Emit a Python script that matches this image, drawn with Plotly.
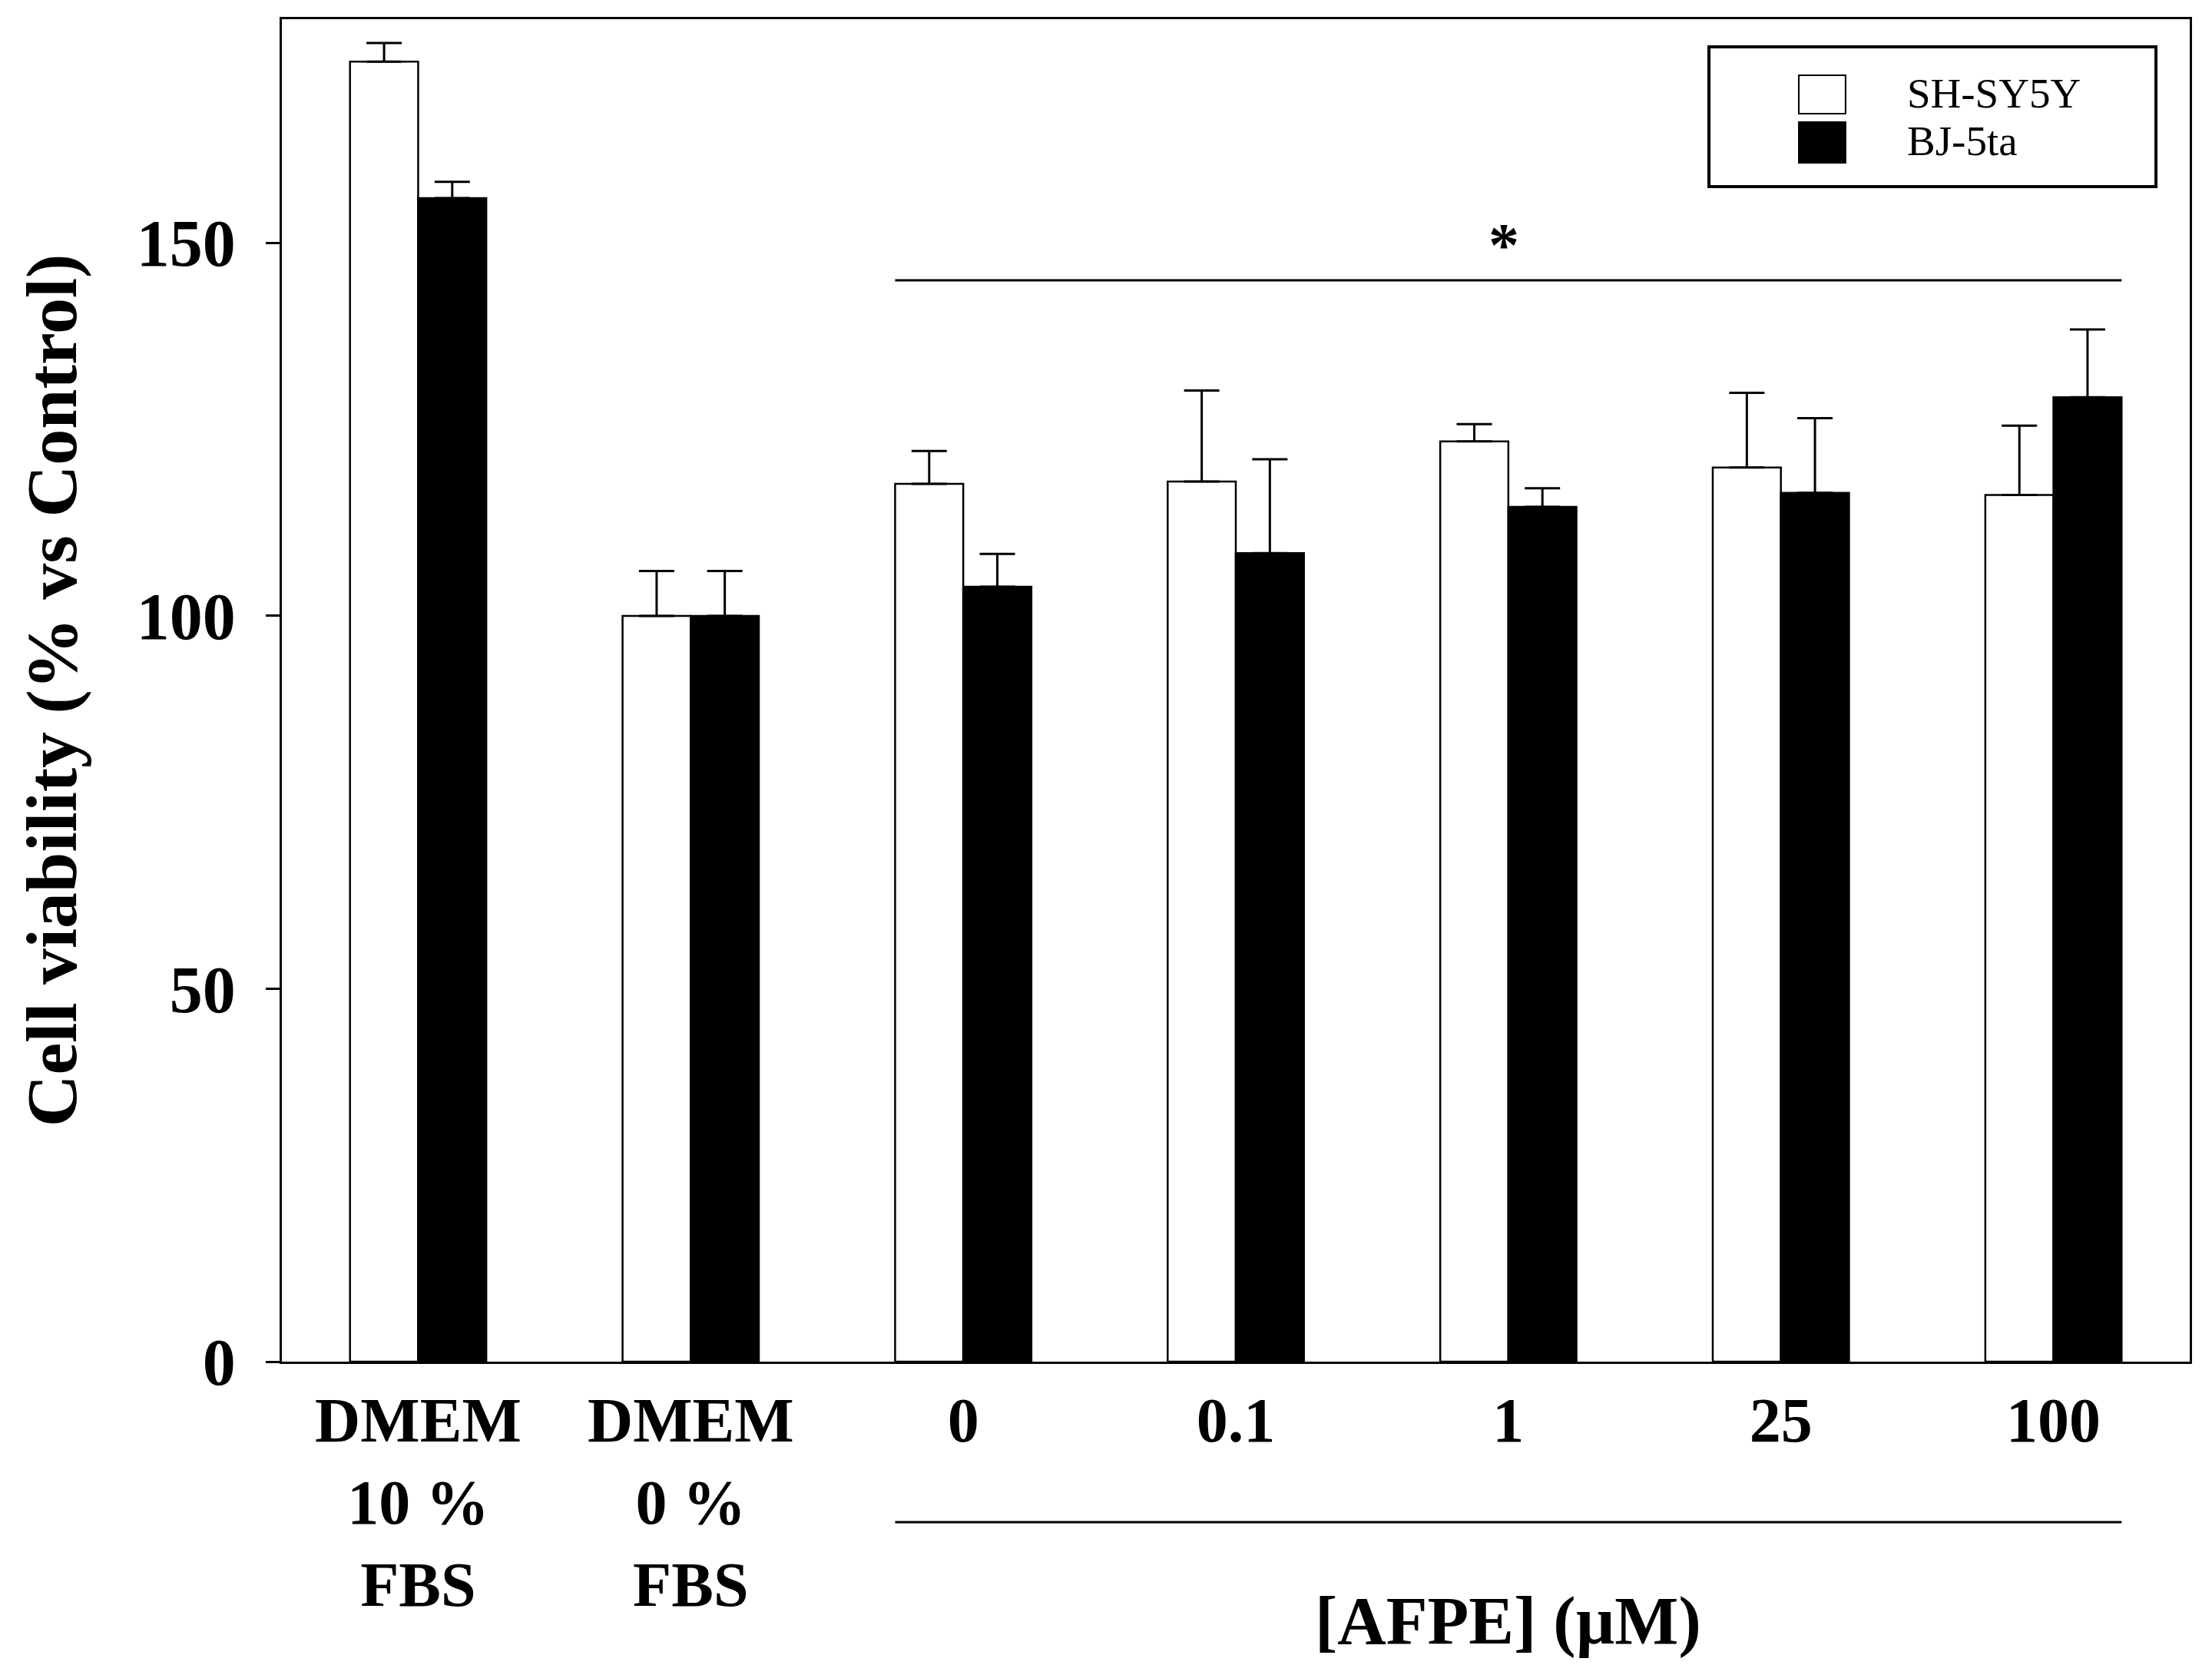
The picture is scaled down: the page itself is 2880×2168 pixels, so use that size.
"""Cell viability bar chart: SH-SY5Y vs BJ-5ta under DMEM controls and AFPE doses."""

import plotly.graph_objects as go

CATEGORIES = ["DMEM<br>10 %<br>FBS", "DMEM<br>0 %<br>FBS", "0", "0.1", "1", "25", "100"]
SHSY5Y_MEAN = [174.3, 100.0, 117.7, 118.0, 123.4, 119.9, 116.2]
SHSY5Y_ERR = [2.5, 6.0, 4.4, 12.2, 2.3, 10.0, 9.3]
BJ5TA_MEAN = [156.0, 100.0, 103.9, 108.4, 114.6, 116.5, 129.3]
BJ5TA_ERR = [2.2, 6.0, 4.4, 12.6, 2.5, 10.0, 9.1]
Y_TICKS = [0, 50, 100, 150]
SIG_LEVEL = 145  # horizontal "*" bracket over the AFPE groups
AFPE_FIRST, AFPE_LAST = 2, 6  # category index range covered by AFPE doses

FONT = "Liberation Serif, Times New Roman, serif"
BAR_HALF = 0.25  # each bar is a quarter of a category slot (bargap 0.5)

x = list(range(len(CATEGORIES)))


def _err(values):
    # upper-only error bars, as in the original figure
    return {
        "type": "data",
        "array": values,
        "arrayminus": [0] * len(values),
        "symmetric": False,
        "color": "black",
        "thickness": 3,
        "width": 23,
    }


fig = go.Figure()
fig.add_bar(x=x, y=SHSY5Y_MEAN, name="SH-SY5Y", error_y=_err(SHSY5Y_ERR), showlegend=False,
            marker={"color": "white", "line": {"color": "black", "width": 2.5}})
fig.add_bar(x=x, y=BJ5TA_MEAN, name="BJ-5ta", error_y=_err(BJ5TA_ERR), showlegend=False,
            marker={"color": "black", "line": {"color": "black", "width": 2.5}})

# Significance line + asterisk over the AFPE groups, and the bracket under the dose labels.
x0 = AFPE_FIRST - BAR_HALF
x1 = AFPE_LAST + BAR_HALF
mid = (AFPE_FIRST + AFPE_LAST) / 2
fig.add_shape(type="line", xref="x", yref="y", x0=x0, x1=x1, y0=SIG_LEVEL, y1=SIG_LEVEL,
              line={"color": "black", "width": 3})
fig.add_annotation(x=mid, y=SIG_LEVEL, xref="x", yref="y", text="*", showarrow=False,
                   yanchor="bottom", yshift=0, xshift=-6,
                   font={"family": FONT, "size": 80, "color": "black", "weight": "bold"})
fig.add_shape(type="line", xref="x", yref="paper", x0=x0, x1=x1, y0=-0.1196, y1=-0.1196,
              line={"color": "black", "width": 3})
fig.add_annotation(x=mid, y=-0.1928, xref="x", yref="paper", text="[AFPE] (\u00b5M)",
                   showarrow=False, yanchor="middle",
                   font={"family": FONT, "size": 88, "color": "black", "weight": "bold"})

# Hand-drawn legend box (plotly's own legend swatches are too small at this scale).
fig.add_shape(type="rect", xref="paper", yref="paper", x0=0.748, x1=0.9823, y0=0.8753, y1=0.9794,
              line={"color": "black", "width": 4}, fillcolor="white")
legend_rows = [("SH-SY5Y", "white", 0.9450, 0.9296, 0.9582),
               ("BJ-5ta", "black", 0.9095, 0.8930, 0.9233)]
for label, fill, yc, ylo, yhi in legend_rows:
    fig.add_shape(type="rect", xref="paper", yref="paper", x0=0.7951, x1=0.8196, y0=ylo, y1=yhi,
                  line={"color": "black", "width": 2}, fillcolor=fill)
    fig.add_annotation(x=0.8510, y=yc, xref="paper", yref="paper", text=label, height=58,
                       showarrow=False, xanchor="left", yanchor="middle",
                       font={"family": FONT, "size": 55, "color": "black"})

# the exported page has an 8px body margin, so the figure is 8px smaller than the window
fig.update_layout(
    width=2872,
    height=2160,
    margin={"l": 359, "r": 29, "t": 17, "b": 395},
    paper_bgcolor="white",
    plot_bgcolor="white",
    barmode="group",
    bargap=0.5,
    bargroupgap=0,
    font={"family": FONT, "color": "black"},
)
fig.update_xaxes(
    range=[-0.5, len(CATEGORIES) - 0.5],
    tickvals=x,
    ticktext=CATEGORIES,
    ticks="",
    ticklabelstandoff=3,
    tickfont={"family": FONT, "size": 82, "color": "black", "weight": "bold"},
    showline=True,
    mirror=True,
    linecolor="black",
    linewidth=3,
    showgrid=False,
    zeroline=False,
)
fig.update_yaxes(
    range=[0, 180],
    tickvals=Y_TICKS,
    ticks="outside",
    ticklen=18,
    tickwidth=3,
    tickcolor="black",
    ticklabelstandoff=22,
    tickfont={"family": FONT, "size": 86, "color": "black", "weight": "bold"},
    title={"text": "Cell viability (% vs Control)", "standoff": 47,
           "font": {"family": FONT, "size": 94, "color": "black", "weight": "bold"}},
    showline=True,
    mirror=True,
    linecolor="black",
    linewidth=3,
    showgrid=False,
    zeroline=False,
)

fig.write_html("out.html")
